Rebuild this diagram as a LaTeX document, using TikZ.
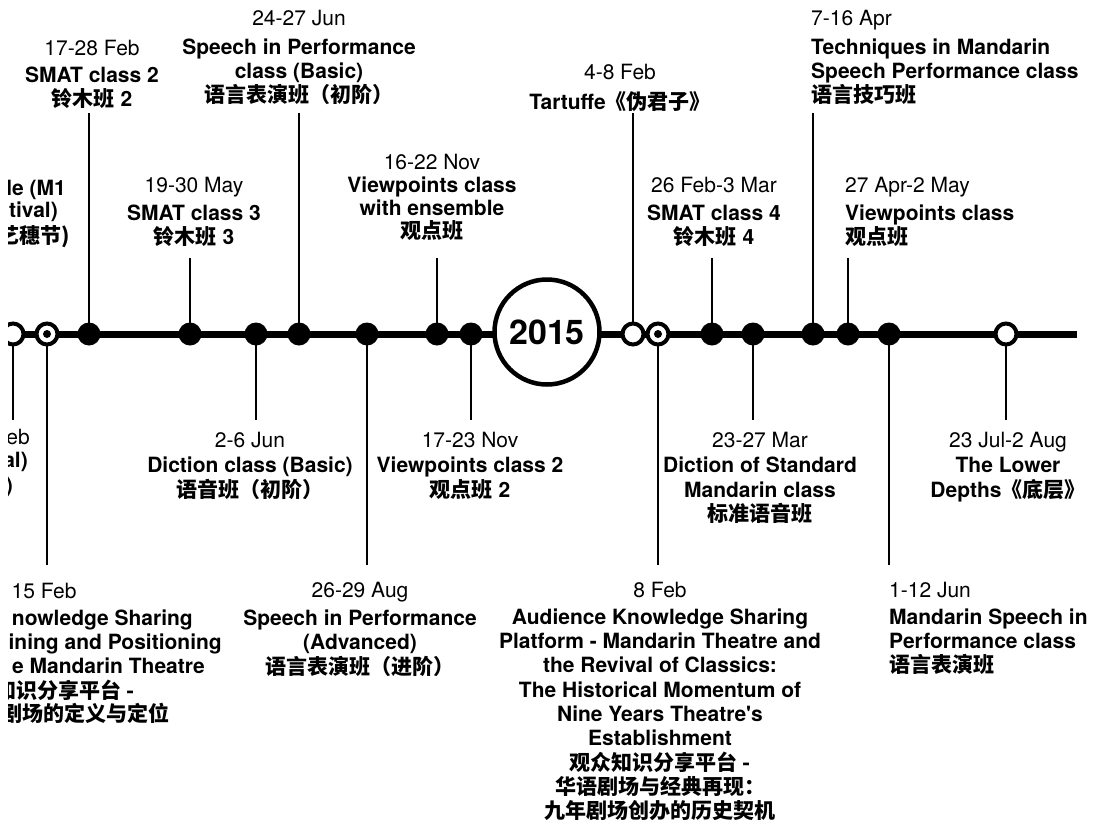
\documentclass[tikz,border=0pt]{standalone}
\usepackage{fontspec}
\setmainfont{TeX Gyre Heros}
\newfontfamily\cjk{Noto Sans CJK SC}
\begin{document}
\begin{tikzpicture}[x=1pt,y=-1pt,
  stemline/.style={line width=2.6pt},
  axisline/.style={line width=7pt},
  dotfull/.style={circle,fill=black,minimum size=23pt,inner sep=0pt},
  dotopen/.style={circle,draw=black,fill=white,line width=4pt,minimum size=21pt,inner sep=0pt},
  dotcore/.style={circle,fill=black,minimum size=8pt,inner sep=0pt},
  yearring/.style={circle,draw=black,fill=white,line width=4.5pt,minimum size=105pt,inner sep=0pt,font=\fontsize{34}{40}\selectfont\bfseries},
  lbl/.style={inner sep=0pt,align=center,font=\fontsize{21}{24}\selectfont},
  lblleft/.style={lbl,align=left},
  frag/.style={inner sep=0pt,font=\fontsize{21}{24}\selectfont\bfseries},
  fragreg/.style={inner sep=0pt,font=\fontsize{21}{24}\selectfont}
]
\useasboundingbox (0,0) rectangle (1098,822);
\begin{scope}
\clip (8,0) rectangle (1098,822);
% axis
\coordinate (tlL) at (0,334);
\coordinate (tlR) at (1077,334);
% marker positions
\coordinate (c0) at (13,334);   \coordinate (s0) at (13,420);
\coordinate (c1) at (47,334);   \coordinate (s1) at (47,565);
\coordinate (c2) at (89,334);   \coordinate (s2) at (89,113);
\coordinate (c3) at (190,334);  \coordinate (s3) at (190,258);
\coordinate (c4) at (256,334);  \coordinate (s4) at (256,420);
\coordinate (c5) at (299,334);  \coordinate (s5) at (299,113);
\coordinate (c6) at (367,334);  \coordinate (s6) at (367,565);
\coordinate (c7) at (437,334);  \coordinate (s7) at (437,258);
\coordinate (c8) at (471,334);  \coordinate (s8) at (471,420);
\coordinate (c9) at (633,334);  \coordinate (s9) at (633,113);
\coordinate (c10) at (658,334); \coordinate (s10) at (658,565);
\coordinate (c11) at (712,334); \coordinate (s11) at (712,258);
\coordinate (c12) at (753,334); \coordinate (s12) at (753,420);
\coordinate (c13) at (813,334); \coordinate (s13) at (813,113);
\coordinate (c14) at (848,334); \coordinate (s14) at (848,258);
\coordinate (c15) at (889,334); \coordinate (s15) at (889,565);
\coordinate (c16) at (1006,334);\coordinate (s16) at (1006,420);
\coordinate (cy) at (547,332);

\draw[axisline] (tlL) -- (tlR);
\foreach \i in {0,...,16} \draw[stemline] (c\i) -- (s\i);

% markers
\node[dotopen] (m0) at (c0) {};
\node[dotopen] (m1) at (c1) {};
\node[dotcore] (m1c) at (c1) {};
\node[dotfull] (m2) at (c2) {};
\node[dotfull] (m3) at (c3) {};
\node[dotfull] (m4) at (c4) {};
\node[dotfull] (m5) at (c5) {};
\node[dotfull] (m6) at (c6) {};
\node[dotfull] (m7) at (c7) {};
\node[dotfull] (m8) at (c8) {};
\node[yearring] (year) at (cy) {2015};
\node[dotopen] (m9) at (c9) {};
\node[dotopen] (m10) at (c10) {};
\node[dotcore] (m10c) at (c10) {};
\node[dotfull] (m11) at (c11) {};
\node[dotfull] (m12) at (c12) {};
\node[dotfull] (m13) at (c13) {};
\node[dotfull] (m14) at (c14) {};
\node[dotfull] (m15) at (c15) {};
\node[dotopen] (m16) at (c16) {};

% upper labels
\node[lbl,anchor=north] (tA) at (92,40) {17-28 Feb\\[3pt]\textbf{SMAT class 2}\\\textbf{{\cjk 铃木班} 2}};
\node[lbl,anchor=north] (tB) at (299,10) {24-27 Jun\\[5pt]\textbf{Speech in Performance}\\\textbf{class (Basic)}\\\textbf{\cjk 语言表演班（初阶）}};
\node[lbl,anchor=north] (tC) at (620,64) {4-8 Feb\\[6pt]\textbf{Tartuffe{\cjk 《伪君子》}}};
\node[lblleft,anchor=north west] (tD) at (811,10) {7-16 Apr\\[5pt]\textbf{Techniques in Mandarin}\\\textbf{Speech Performance class}\\\textbf{\cjk 语言技巧班}};
\node[lbl,anchor=north] (tE) at (194,177) {19-30 May\\[4pt]\textbf{SMAT class 3}\\\textbf{{\cjk 铃木班} 3}};
\node[lbl,anchor=north] (tF) at (432,154) {16-22 Nov\\[-1pt]\textbf{Viewpoints class}\\[-1pt]\textbf{with ensemble}\\[-1pt]\textbf{\cjk 观点班}};
\node[lbl,anchor=north] (tG) at (714,177) {26 Feb-3 Mar\\[4pt]\textbf{SMAT class 4}\\\textbf{{\cjk 铃木班} 4}};
\node[lblleft,anchor=north west] (tH) at (845,177) {27 Apr-2 May\\[4pt]\textbf{Viewpoints class}\\\textbf{\cjk 观点班}};
\node[frag,anchor=base east] (fa1) at (66,195.5) {le (M1};
\node[frag,anchor=base east] (fa2) at (58,217.5) {tival)};
\node[frag,anchor=base east] (fa3) at (70,243) {\cjk 艺穗节)};

% lower labels
\node[fragreg,anchor=base east] (fb1) at (30,444.5) {eb};
\node[frag,anchor=base east] (fb2) at (28,467.5) {al)};
\node[frag,anchor=base east] (fb3) at (13,492) {)};
\node[lbl,anchor=north] (tJ) at (250,432) {2-6 Jun\\[1pt]\textbf{Diction class (Basic)}\\[1pt]\textbf{\cjk 语音班（初阶）}};
\node[lbl,anchor=north] (tK) at (470,432) {17-23 Nov\\[1pt]\textbf{Viewpoints class 2}\\[1pt]\textbf{{\cjk 观点班} 2}};
\node[lbl,anchor=north] (tL) at (760,432) {23-27 Mar\\[1pt]\textbf{Diction of Standard}\\[1pt]\textbf{Mandarin class}\\\textbf{\cjk 标准语音班}};
\node[lbl,anchor=north] (tM) at (1008,432) {23 Jul-2 Aug\\[1pt]\textbf{The Lower}\\[1pt]\textbf{Depths{\cjk 《底层》}}};

\node[lbl,anchor=north] (tN) at (44,583) {15 Feb};
\node[frag,anchor=base east] (fn1) at (193,625.5) {nowledge Sharing};
\node[frag,anchor=base east] (fn2) at (222,649.5) {ining and Positioning};
\node[frag,anchor=base east] (fn3) at (205,673.5) {e Mandarin Theatre};
\node[frag,anchor=base east] (fn4) at (135,698) {\cjk 知识分享平台 -};
\node[frag,anchor=base east] (fn5) at (170,721) {\cjk 剧场的定义与定位};

\node[lbl,anchor=north] (tO) at (360,582) {26-29 Aug\\[4pt]\textbf{Speech in Performance}\\\textbf{(Advanced)}\\[1pt]\textbf{\cjk 语言表演班（进阶）}};
\node[lbl,anchor=north] (tP) at (660,582) {8 Feb\\[3pt]\textbf{Audience Knowledge Sharing}\\\textbf{Platform - Mandarin Theatre and}\\\textbf{the Revival of Classics:}\\[1pt]\textbf{The Historical Momentum of}\\\textbf{Nine Years Theatre\textquotesingle s}\\\textbf{Establishment}\\[1pt]\textbf{\cjk 观众知识分享平台 -}\\\textbf{\cjk 华语剧场与经典再现：}\\\textbf{\cjk 九年剧场创办的历史契机}};
\node[lblleft,anchor=north west] (tQ) at (889,582) {1-12 Jun\\[3pt]\textbf{Mandarin Speech in}\\\textbf{Performance class}\\\textbf{\cjk 语言表演班}};
\end{scope}
\end{tikzpicture}
\end{document}
